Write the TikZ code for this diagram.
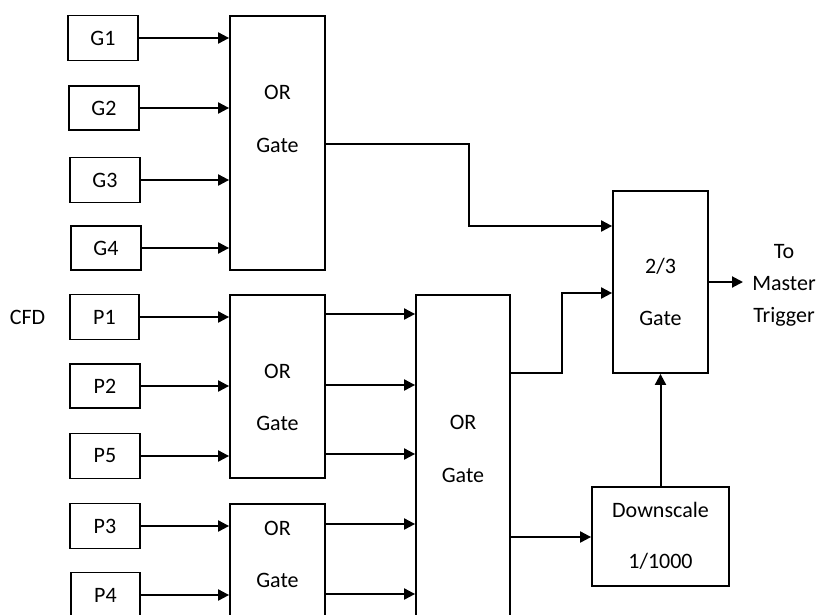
\documentclass[tikz,border=0pt]{standalone}
\usepackage{fontspec}
\setmainfont{Carlito}
\usetikzlibrary{arrows.meta}
\begin{document}
\begin{tikzpicture}[x=1pt,y=-1pt,
  box/.style={draw, line width=1.8pt, inner sep=0pt, font=\fontsize{22}{26}\selectfont},
  lbl/.style={anchor=base, inner sep=0pt, font=\fontsize{22}{26}\selectfont},
  arr/.style={line width=2pt, -{Triangle[length=11pt,width=11pt]}},
  ln/.style={line width=2pt}]
\useasboundingbox (0,0) rectangle (819,614);
\clip (0,0) rectangle (819,614);
% G boxes
\node[box, minimum width=70, minimum height=45] (G1) at (103,38) {G1};
\node[box, minimum width=70, minimum height=44] (G2) at (104,108) {G2};
\node[box, minimum width=70, minimum height=45] (G3) at (105,180) {G3};
\node[box, minimum width=70, minimum height=44] (G4) at (106,248) {G4};
% P boxes
\node[box, minimum width=69, minimum height=45] (P1) at (104.5,317) {P1};
\node[box, minimum width=70, minimum height=44] (P2) at (105,386) {P2};
\node[box, minimum width=70, minimum height=45] (P5) at (105,456) {P5};
\node[box, minimum width=70, minimum height=45] (P3) at (105,526) {P3};
\node[box, minimum width=69, minimum height=45] (P4) at (105.5,595) {P4};
\node[lbl] (cfd) at (27.5,324) {CFD};
% OR gates
\node[box, minimum width=95, minimum height=254] (tOR) at (277.5,143) {};
\node[lbl] (tORa) at (277.5,99) {OR};
\node[lbl] (tORb) at (277.5,152) {Gate};
\node[box, minimum width=95, minimum height=183] (mOR) at (277.5,386.5) {};
\node[lbl] (mORa) at (277.5,378) {OR};
\node[lbl] (mORb) at (277.5,430) {Gate};
\node[box, minimum width=95, minimum height=146] (bOR) at (277.5,577) {};
\node[lbl] (bORa) at (277.5,535) {OR};
\node[lbl] (bORb) at (277.5,587) {Gate};
\node[box, minimum width=94, minimum height=355] (big) at (463,472.5) {};
\node[lbl] (biga) at (463,429) {OR};
\node[lbl] (bigb) at (463,482) {Gate};
% 2/3 gate
\node[box, minimum width=95, minimum height=182] (g23) at (660.5,282) {};
\node[lbl] (g23a) at (660.5,273) {2/3};
\node[lbl] (g23b) at (660.5,325) {Gate};
% Downscale
\node[box, minimum width=137, minimum height=99] (ds) at (660.5,536.5) {};
\node[lbl] (dsa) at (660.5,517) {Downscale};
\node[lbl] (dsb) at (660.5,568) {1/1000};
% output label
\node[lbl] (to1) at (784,258) {To};
\node[lbl] (to2) at (784,290) {Master};
\node[lbl] (to3) at (784,322) {Trigger};
\coordinate (mt) at (743,282);
% G inputs
\draw[arr] (G1.east) -- (G1.east -| tOR.west);
\draw[arr] (G2.east) -- (G2.east -| tOR.west);
\draw[arr] (G3.east) -- (G3.east -| tOR.west);
\draw[arr] (G4.east) -- (G4.east -| tOR.west);
% P inputs
\draw[arr] (P1.east) -- (P1.east -| mOR.west);
\draw[arr] (P2.east) -- (P2.east -| mOR.west);
\draw[arr] (P5.east) -- (P5.east -| mOR.west);
\draw[arr] (P3.east) -- (P3.east -| bOR.west);
\draw[arr] (P4.east) -- (P4.east -| bOR.west);
% middle/bottom OR outputs
\draw[arr] (mOR.east |- 0,314) -- (big.west |- 0,314);
\draw[arr] (mOR.east |- 0,385) -- (big.west |- 0,385);
\draw[arr] (mOR.east |- 0,454) -- (big.west |- 0,454);
\draw[arr] (bOR.east |- 0,524) -- (big.west |- 0,524);
\draw[arr] (bOR.east |- 0,594) -- (big.west |- 0,594);
% top OR to 2/3
\draw[arr] (tOR.east |- 0,144) -| (469,226) -- (g23.west |- 0,226);
% big OR to 2/3
\draw[arr] (big.east |- 0,373) -| (562,293) -- (g23.west |- 0,293);
% big OR to downscale
\draw[arr] (big.east |- 0,537) -- (ds.west |- 0,537);
% downscale to 2/3
\draw[arr] (ds.north) -- (g23.south);
% output
\draw[arr] (g23.east) -- (mt);
\end{tikzpicture}
\end{document}
